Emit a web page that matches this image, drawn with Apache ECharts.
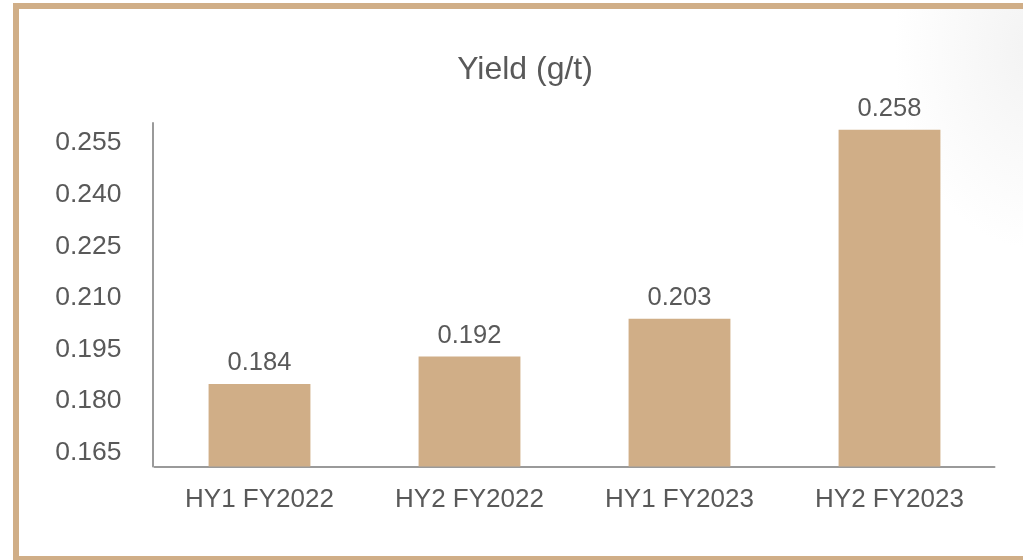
<!DOCTYPE html>
<html>
<head>
<meta charset="utf-8">
<script src="https://cdn.jsdelivr.net/npm/echarts@6/dist/echarts.min.js"></script>
<style>
  html, body { margin: 0; padding: 0; width: 1023px; height: 560px; overflow: hidden; background: #ffffff; }
  #frame { position: absolute; left: 13px; top: 3px; width: 1040px; height: 547px; border: 6px solid #D0AE87; border-right: none; box-sizing: content-box;
    background: radial-gradient(ellipse 140px 200px at 1015px 40px, rgba(228,228,228,0.45), rgba(255,255,255,0) 100%); }
  #chart { position: absolute; left: 0; top: 0; width: 1023px; height: 560px; }
</style>
</head>
<body>
<div id="frame"></div>
<div id="chart"></div>
<script>
const titleText = 'Yield (g/t)';
const categories = ['HY1 FY2022', 'HY2 FY2022', 'HY1 FY2023', 'HY2 FY2023'];
const yieldValues = [0.184, 0.192, 0.203, 0.258];
const yTickLabels = [0.165, 0.180, 0.195, 0.210, 0.225, 0.240, 0.255];

const textColor = '#595959';
const barColor = '#D0AE87';
const font = 'Liberation Sans, Arial, sans-serif';

const chart = echarts.init(document.getElementById('chart'), null, { renderer: 'canvas' });
chart.setOption({
  backgroundColor: 'transparent',
  animation: false,
  title: {
    text: titleText,
    left: 520,
    textAlign: 'center',
    top: 49,
    textStyle: { color: textColor, fontSize: 32, fontWeight: 'normal', fontFamily: font }
  },
  grid: { left: 154.5, right: 28.5, top: 123, bottom: 93.5, containLabel: false },
  xAxis: {
    type: 'category',
    data: categories,
    axisLine: { show: true, lineStyle: { color: '#9a9a9a', width: 2 } },
    axisTick: { show: false },
    axisLabel: { color: textColor, fontSize: 26, fontFamily: font, margin: 20 }
  },
  yAxis: {
    type: 'value',
    min: 0.16,
    max: 0.26,
    offset: 2,
    splitLine: { show: false },
    axisLine: { show: true, lineStyle: { color: '#9a9a9a', width: 2 } },
    axisTick: { show: false },
    axisLabel: {
      color: textColor, fontSize: 26.5, fontFamily: font, margin: 31,
      customValues: yTickLabels,
      formatter: v => '{v|' + v.toFixed(3) + '}',
      rich: { v: { color: textColor, fontSize: 26.5, fontFamily: font, padding: [6, 0, 0, 0] } }
    }
  },
  series: [{
    type: 'bar',
    data: yieldValues,
    barWidth: '48.5%',
    itemStyle: { color: barColor },
    label: {
      show: true, position: 'top', distance: 8,
      color: textColor, fontSize: 25.5, fontFamily: font,
      formatter: p => p.value.toFixed(3)
    }
  }]
});
</script>
</body>
</html>
